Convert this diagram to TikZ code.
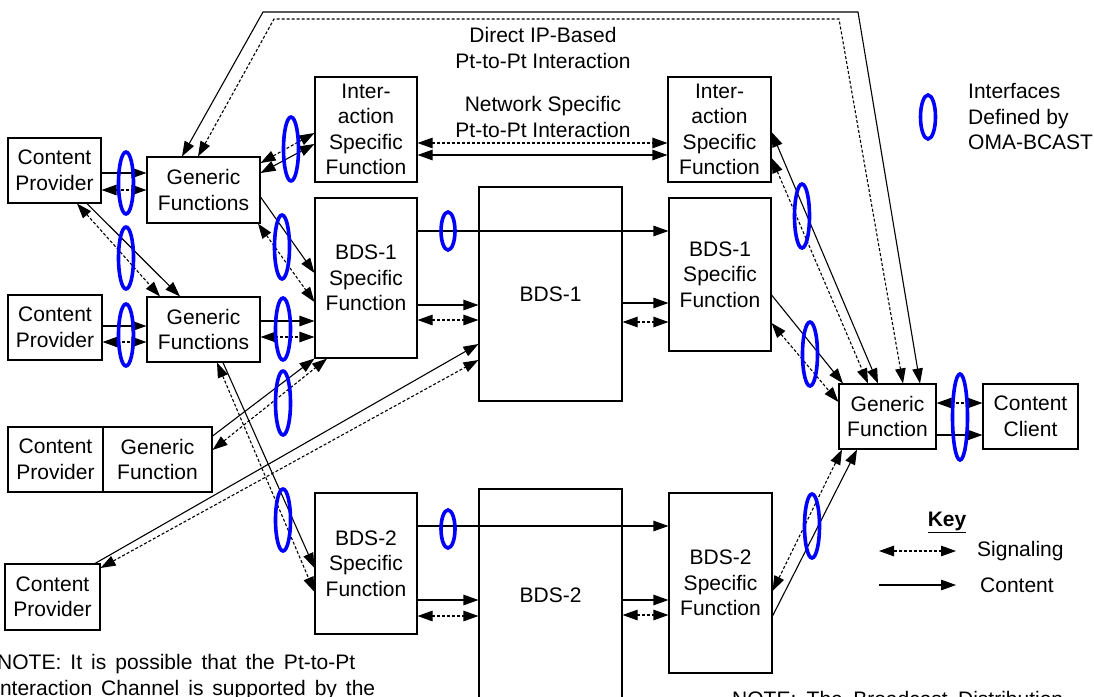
\documentclass[tikz,border=0pt]{standalone}
\usepackage{fontspec}
\setmainfont{Liberation Sans}
\usetikzlibrary{arrows.meta,calc}
\begin{document}
\begin{tikzpicture}[x=1pt,y=-1pt,
  font=\fontsize{21}{25.5}\selectfont,
  >={Triangle[length=15pt,width=10.5pt]},
  box/.style={draw, line width=1.1pt, inner sep=0pt, align=center},
  cont/.style={line width=1.1pt, ->},
  cont2/.style={line width=1.1pt, <->},
  sig/.style={line width=1.1pt, dash pattern=on 3pt off 2pt, <->},
  iface/.style={draw=blue, line width=3.6pt},
  lbl/.style={inner sep=0pt, align=center}]
\useasboundingbox (0,0) rectangle (1094,696);
\clip (0,0) rectangle (1094,696);

% boxes
\node[box, minimum width=93pt, minimum height=65pt] (cp1) at (54.5,170.5) {Content\\Provider};
\node[box, minimum width=113pt, minimum height=66pt] (gf1) at (203.5,190) {Generic\\Functions};
\node[box, minimum width=102pt, minimum height=105pt] (isl) at (366,129.5) {Inter-\\action\\Specific\\Function};
\node[box, minimum width=103pt, minimum height=105pt] (isr) at (719.5,129.5) {Inter-\\action\\Specific\\Function};
\node[box, minimum width=94pt, minimum height=65pt] (cp2) at (55,327.5) {Content\\Provider};
\node[box, minimum width=113pt, minimum height=65pt] (gf2) at (203.5,329.5) {Generic\\Functions};
\node[box, minimum width=102pt, minimum height=160pt] (bsl) at (366,278) {BDS-1\\Specific\\Function};
\node[box, minimum width=143pt, minimum height=214pt] (bds1) at (550.5,294) {BDS-1};
\node[box, minimum width=102pt, minimum height=153pt] (bsr) at (720,274.5) {BDS-1\\Specific\\Function};
\node[box, minimum width=95pt, minimum height=65pt] (cp3) at (55.5,459.5) {Content\\Provider};
\node[box, minimum width=109pt, minimum height=65pt] (gf3) at (157.5,459.5) {Generic\\Function};
\node[box, minimum width=95pt, minimum height=66pt] (cp4) at (52.5,597) {Content\\Provider};
\node[box, minimum width=102pt, minimum height=141pt] (b2l) at (366,563.5) {BDS-2\\Specific\\Function};
\node[box, minimum width=143pt, minimum height=212pt] (bds2) at (550.5,595) {BDS-2};
\node[box, minimum width=103pt, minimum height=180pt] (b2r) at (720.5,583) {BDS-2\\Specific\\Function};
\node[box, minimum width=97pt, minimum height=65pt] (gfr) at (887.5,416.5) {Generic\\Function};
\node[box, minimum width=95pt, minimum height=65pt] (cc) at (1030.5,416.5) {Content\\Client};

% labels
\node[lbl] (dip) at (543,48) {Direct IP-Based\\Pt-to-Pt Interaction};
\node[lbl] (nsp) at (543,117) {Network Specific\\Pt-to-Pt Interaction};
\node[lbl, anchor=west, align=left] (leg) at (968,117) {Interfaces\\Defined by\\OMA-BCAST};
\node[lbl] (key) at (947,522) {\textbf{\underline{Key}}};
\node[lbl, anchor=west] (ksig) at (977,551) {Signaling};
\node[lbl, anchor=west] (kcon) at (980,585) {Content};
\node[lbl, anchor=base west] (n1) at (-3,669) {\makebox[358pt][s]{NOTE: It is possible that the Pt-to-Pt}};
\node[lbl, anchor=base west] (n2) at (-6,695) {\makebox[381pt][s]{Interaction Channel is supported by the}};
\node[lbl, anchor=base west] (n3) at (732,706) {\makebox[331pt][s]{NOTE: The Broadcast Distribution}};

% corner coordinates of the top links
\coordinate (ts1) at (263,12);
\coordinate (ts2) at (858,12);
\coordinate (td1) at (274,19);
\coordinate (td2) at (839,19);

% top direct links
\draw[cont2] (gf1.north -| 182,0) -- (ts1) -- (ts2) -- (gfr.north -| 920,0);
\draw[sig] (gf1.north -| 198,0) -- (td1) -- (td2) -- (gfr.north -| 903,0);

% interaction links
\draw[sig] (isl.east |- 0,143) -- (isr.west |- 0,143);
\draw[cont2] (isl.east |- 0,155) -- (isr.west |- 0,155);
\draw[sig] (gf1.east |- 0,163) -- (isl.west |- 0,133);
\draw[cont2] (gf1.east |- 0,173) -- (isl.west |- 0,144);
\draw[sig] (isr.east |- 0,158) -- (gfr.north -| 868,0);
\draw[cont2] (isr.east |- 0,132) -- (gfr.north -| 878,0);

% content providers to generic functions
\draw[cont] (cp1.east |- 0,173) -- (gf1.west |- 0,173);
\draw[sig] (cp1.east |- 0,190) -- (gf1.west |- 0,190);
\draw[sig] (cp1.south -| 77,0) -- (gf2.north -| 160,0);
\draw[cont] (cp1.south -| 87,0) -- (gf2.north -| 180,0);
\draw[cont] (cp2.east |- 0,326) -- (gf2.west |- 0,326);
\draw[sig] (cp2.east |- 0,342) -- (gf2.west |- 0,342);

% generic functions to BDS-1 specific
\draw[cont] (gf1.east |- 0,197) -- (bsl.west |- 0,273);
\draw[sig] (gf1.south -| 258,0) -- (bsl.west |- 0,302);
\draw[cont] (gf2.east |- 0,321) -- (bsl.west |- 0,321);
\draw[sig] (gf2.east |- 0,337) -- (bsl.west |- 0,337);
\draw[cont] (gf3.east |- 0,436) -- (bsl.south west);
\draw[sig] (gf3.east |- 0,450) -- (bsl.south -| 327,0);

% generic functions 2 to BDS-2 specific
\draw[cont] (gf2.south -| 223,0) -- (b2l.west |- 0,568);
\draw[sig] (gf2.south -| 217,0) -- (b2l.west |- 0,592);

% content provider 4 to BDS-1
\draw[cont] (cp4.north -| 95,0) -- (bds1.west |- 0,344);
\draw[sig] (cp4.east |- 0,568) -- (bds1.west |- 0,360);

% BDS-1 chain
\draw[cont] (bsl.east |- 0,231) -- (bsr.west |- 0,231);
\draw[cont] (bsl.east |- 0,305) -- (bds1.west |- 0,305);
\draw[sig] (bsl.east |- 0,320) -- (bds1.west |- 0,320);
\draw[cont] (bds1.east |- 0,303) -- (bsr.west |- 0,303);
\draw[sig] (bds1.east |- 0,322) -- (bsr.west |- 0,322);
\draw[cont] (bsr.east |- 0,295) -- (gfr.north -| 843,0);
\draw[sig] (bsr.east |- 0,323) -- (gfr.west |- 0,402);

% BDS-2 chain
\draw[cont] (b2l.east |- 0,526) -- (b2r.west |- 0,526);
\draw[cont] (b2l.east |- 0,600) -- (bds2.west |- 0,600);
\draw[sig] (b2l.east |- 0,616) -- (bds2.west |- 0,616);
\draw[cont] (bds2.east |- 0,600) -- (b2r.west |- 0,600);
\draw[sig] (bds2.east |- 0,615) -- (b2r.west |- 0,615);
\draw[cont] (b2r.east |- 0,616) -- (gfr.south -| 857,0);
\draw[sig] (b2r.east |- 0,591) -- (gfr.south -| 842,0);

% generic function to content client
\draw[sig] (gfr.east |- 0,403) -- (cc.west |- 0,403);
\draw[cont] (gfr.east |- 0,435) -- (cc.west |- 0,435);

% key
\coordinate (ks1) at (879,551);
\coordinate (ks2) at (956,551);
\coordinate (kc1) at (879,585);
\coordinate (kc2) at (956,585);
\draw[sig] (ks1) -- (ks2);
\draw[cont] (kc1) -- (kc2);

% interfaces
\draw[iface] (126,183) ellipse [x radius=7.5, y radius=31];
\draw[iface] (126,258) ellipse [x radius=7.5, y radius=31];
\draw[iface] (126,335) ellipse [x radius=7.5, y radius=31];
\draw[iface] (291,149) ellipse [x radius=7.5, y radius=32];
\draw[iface] (282,247) ellipse [x radius=7.5, y radius=32];
\draw[iface] (283,329) ellipse [x radius=7.5, y radius=31];
\draw[iface] (283,403) ellipse [x radius=7.5, y radius=32];
\draw[iface] (283,520) ellipse [x radius=7.5, y radius=31];
\draw[iface] (448,231) ellipse [x radius=7, y radius=19];
\draw[iface] (448,529) ellipse [x radius=7, y radius=19];
\draw[iface] (802,216) ellipse [x radius=7.5, y radius=32];
\draw[iface] (810,354) ellipse [x radius=7.5, y radius=32];
\draw[iface] (812,526) ellipse [x radius=7.5, y radius=32];
\draw[iface] (960,417) ellipse [x radius=7.5, y radius=43];
\draw[iface] (928,117) ellipse [x radius=7.5, y radius=22];
\end{tikzpicture}
\end{document}
